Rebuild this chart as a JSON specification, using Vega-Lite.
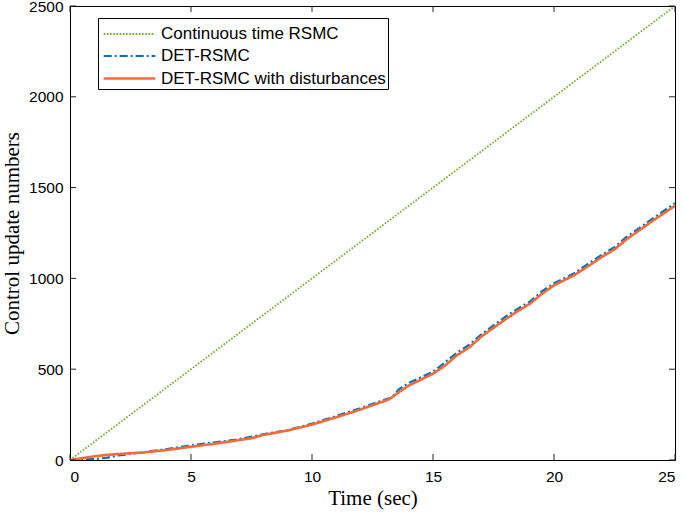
{
  "$schema": "https://vega.github.io/schema/vega-lite/v6.json",
  "autosize": {"type": "none"},
  "padding": {"left": 70, "top": 6, "right": 10, "bottom": 53},
  "width": 605,
  "height": 454,
  "background": "white",
  "config": {
    "view": {"stroke": "black", "strokeWidth": 1},
    "axis": {
      "grid": false,
      "domainColor": "black",
      "ticks": false,
      "format": "d",
      "labelFont": "Liberation Sans",
      "labelFontSize": 15.5,
      "labelColor": "black",
      "titleFont": "Liberation Serif",
      "titleFontSize": 21,
      "titleFontWeight": "normal",
      "titleColor": "black"
    }
  },
  "datasets": {
    "xticks": [{"t": 0}, {"t": 5}, {"t": 10}, {"t": 15}, {"t": 20}, {"t": 25}],
    "yticks": [{"n": 0}, {"n": 500}, {"n": 1000}, {"n": 1500}, {"n": 2000}, {"n": 2500}],
    "curves": [
      {"t": 0, "n": 0, "series": "Continuous time RSMC"},
      {"t": 25, "n": 2500, "series": "Continuous time RSMC"},

      {"t": 0, "n": 0, "series": "DET-RSMC"},
      {"t": 0.5, "n": 2, "series": "DET-RSMC"},
      {"t": 1, "n": 5, "series": "DET-RSMC"},
      {"t": 1.5, "n": 12, "series": "DET-RSMC"},
      {"t": 2, "n": 25, "series": "DET-RSMC"},
      {"t": 3, "n": 42, "series": "DET-RSMC"},
      {"t": 4, "n": 60, "series": "DET-RSMC"},
      {"t": 5, "n": 80, "series": "DET-RSMC"},
      {"t": 6, "n": 97, "series": "DET-RSMC"},
      {"t": 7, "n": 115, "series": "DET-RSMC"},
      {"t": 8, "n": 142, "series": "DET-RSMC"},
      {"t": 9, "n": 165, "series": "DET-RSMC"},
      {"t": 10, "n": 200, "series": "DET-RSMC"},
      {"t": 11, "n": 242, "series": "DET-RSMC"},
      {"t": 12, "n": 285, "series": "DET-RSMC"},
      {"t": 13, "n": 332, "series": "DET-RSMC"},
      {"t": 13.3, "n": 345, "series": "DET-RSMC"},
      {"t": 13.6, "n": 390, "series": "DET-RSMC"},
      {"t": 14, "n": 425, "series": "DET-RSMC"},
      {"t": 15, "n": 485, "series": "DET-RSMC"},
      {"t": 16, "n": 592, "series": "DET-RSMC"},
      {"t": 16.5, "n": 635, "series": "DET-RSMC"},
      {"t": 17, "n": 692, "series": "DET-RSMC"},
      {"t": 18, "n": 790, "series": "DET-RSMC"},
      {"t": 18.5, "n": 832, "series": "DET-RSMC"},
      {"t": 19, "n": 872, "series": "DET-RSMC"},
      {"t": 19.5, "n": 928, "series": "DET-RSMC"},
      {"t": 20, "n": 973, "series": "DET-RSMC"},
      {"t": 20.8, "n": 1025, "series": "DET-RSMC"},
      {"t": 21.5, "n": 1088, "series": "DET-RSMC"},
      {"t": 22, "n": 1132, "series": "DET-RSMC"},
      {"t": 22.5, "n": 1172, "series": "DET-RSMC"},
      {"t": 23, "n": 1228, "series": "DET-RSMC"},
      {"t": 24, "n": 1322, "series": "DET-RSMC"},
      {"t": 25, "n": 1415, "series": "DET-RSMC"},

      {"t": 0, "n": 0, "series": "DET-RSMC with disturbances"},
      {"t": 0.5, "n": 10, "series": "DET-RSMC with disturbances"},
      {"t": 1, "n": 20, "series": "DET-RSMC with disturbances"},
      {"t": 1.5, "n": 28, "series": "DET-RSMC with disturbances"},
      {"t": 2, "n": 33, "series": "DET-RSMC with disturbances"},
      {"t": 3, "n": 41, "series": "DET-RSMC with disturbances"},
      {"t": 4, "n": 55, "series": "DET-RSMC with disturbances"},
      {"t": 5, "n": 73, "series": "DET-RSMC with disturbances"},
      {"t": 6, "n": 90, "series": "DET-RSMC with disturbances"},
      {"t": 7, "n": 110, "series": "DET-RSMC with disturbances"},
      {"t": 7.5, "n": 120, "series": "DET-RSMC with disturbances"},
      {"t": 8, "n": 138, "series": "DET-RSMC with disturbances"},
      {"t": 8.5, "n": 150, "series": "DET-RSMC with disturbances"},
      {"t": 9, "n": 163, "series": "DET-RSMC with disturbances"},
      {"t": 10, "n": 195, "series": "DET-RSMC with disturbances"},
      {"t": 11, "n": 235, "series": "DET-RSMC with disturbances"},
      {"t": 12, "n": 278, "series": "DET-RSMC with disturbances"},
      {"t": 13, "n": 325, "series": "DET-RSMC with disturbances"},
      {"t": 13.2, "n": 335, "series": "DET-RSMC with disturbances"},
      {"t": 13.6, "n": 375, "series": "DET-RSMC with disturbances"},
      {"t": 14, "n": 410, "series": "DET-RSMC with disturbances"},
      {"t": 15, "n": 475, "series": "DET-RSMC with disturbances"},
      {"t": 15.5, "n": 520, "series": "DET-RSMC with disturbances"},
      {"t": 16, "n": 578, "series": "DET-RSMC with disturbances"},
      {"t": 16.5, "n": 620, "series": "DET-RSMC with disturbances"},
      {"t": 17, "n": 680, "series": "DET-RSMC with disturbances"},
      {"t": 18, "n": 775, "series": "DET-RSMC with disturbances"},
      {"t": 18.5, "n": 820, "series": "DET-RSMC with disturbances"},
      {"t": 19, "n": 860, "series": "DET-RSMC with disturbances"},
      {"t": 19.5, "n": 915, "series": "DET-RSMC with disturbances"},
      {"t": 20, "n": 962, "series": "DET-RSMC with disturbances"},
      {"t": 20.8, "n": 1015, "series": "DET-RSMC with disturbances"},
      {"t": 21.5, "n": 1075, "series": "DET-RSMC with disturbances"},
      {"t": 22, "n": 1120, "series": "DET-RSMC with disturbances"},
      {"t": 22.5, "n": 1160, "series": "DET-RSMC with disturbances"},
      {"t": 23, "n": 1215, "series": "DET-RSMC with disturbances"},
      {"t": 24, "n": 1310, "series": "DET-RSMC with disturbances"},
      {"t": 25, "n": 1400, "series": "DET-RSMC with disturbances"}
    ]
  },
  "layer": [
    {
      "data": {"name": "curves"},
      "mark": {"type": "line", "clip": true},
      "encoding": {
        "x": {
          "field": "t", "type": "quantitative",
          "scale": {"domain": [0, 25], "nice": false},
          "axis": {"title": "Time (sec)", "values": [0, 5, 10, 15, 20, 25], "labelPadding": 9, "titlePadding": 3}
        },
        "y": {
          "field": "n", "type": "quantitative",
          "scale": {"domain": [0, 2500], "nice": false},
          "axis": {"title": "Control update numbers", "values": [0, 500, 1000, 1500, 2000, 2500], "labelPadding": 7, "titlePadding": 6}
        },
        "color": {
          "field": "series", "type": "nominal",
          "scale": {
            "domain": ["Continuous time RSMC", "DET-RSMC", "DET-RSMC with disturbances"],
            "range": ["#77AC30", "#0072BD", "#F46A3A"]
          },
          "legend": {
            "title": null,
            "orient": "none",
            "legendX": 28,
            "legendY": 12,
            "symbolType": "M-0.85,0H3.2",
            "symbolSize": 650,
            "symbolStrokeWidth": 2,
            "symbolFillColor": "transparent",
            "labelFont": "Liberation Sans",
            "labelFontSize": 17,
            "labelColor": "black",
            "labelOffset": 32,
            "rowPadding": -4,
            "padding": 2,
            "strokeColor": "black",
            "fillColor": "white",
            "labelLimit": 300
          }
        },
        "strokeDash": {
          "field": "series", "type": "nominal",
          "scale": {
            "domain": ["Continuous time RSMC", "DET-RSMC", "DET-RSMC with disturbances"],
            "range": [[1.6, 1.6], [8, 3, 2, 3], [1, 0]]
          },
          "legend": null
        },
        "strokeWidth": {
          "field": "series", "type": "nominal",
          "scale": {
            "domain": ["Continuous time RSMC", "DET-RSMC", "DET-RSMC with disturbances"],
            "range": [1.8, 2.6, 1.8]
          },
          "legend": null
        }
      }
    },
    {
      "data": {"name": "xticks"},
      "mark": {"type": "rule", "color": "#222", "strokeWidth": 1},
      "encoding": {"x": {"field": "t", "type": "quantitative"}, "y": {"datum": 0}, "y2": {"datum": 33}}
    },
    {
      "data": {"name": "xticks"},
      "mark": {"type": "rule", "color": "#222", "strokeWidth": 1},
      "encoding": {"x": {"field": "t", "type": "quantitative"}, "y": {"datum": 2467}, "y2": {"datum": 2500}}
    },
    {
      "data": {"name": "yticks"},
      "mark": {"type": "rule", "color": "#222", "strokeWidth": 1},
      "encoding": {"y": {"field": "n", "type": "quantitative"}, "x": {"datum": 0}, "x2": {"datum": 0.25}}
    },
    {
      "data": {"name": "yticks"},
      "mark": {"type": "rule", "color": "#222", "strokeWidth": 1},
      "encoding": {"y": {"field": "n", "type": "quantitative"}, "x": {"datum": 24.75}, "x2": {"datum": 25}}
    }
  ]
}
